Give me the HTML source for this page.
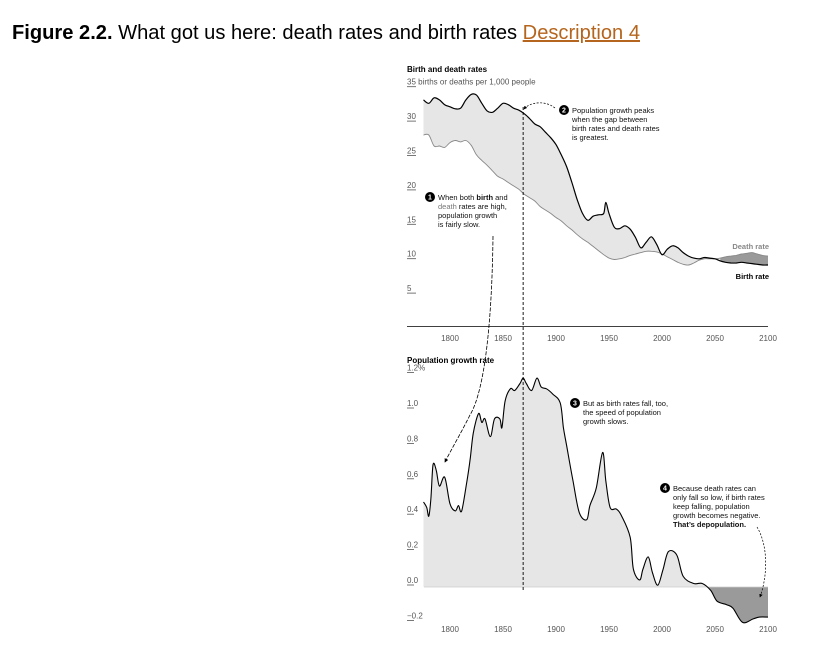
<!DOCTYPE html>
<html><head><meta charset="utf-8"><style>
body{margin:0;background:#fff;width:830px;height:647px;overflow:hidden;font-family:"Liberation Sans",sans-serif}
svg text{font-family:"Liberation Sans",sans-serif}
</style></head><body>
<svg id="fig" width="830" height="647" viewBox="0 0 830 647">
<defs><marker id="ah" viewBox="0 0 6 6" refX="5" refY="3" markerWidth="5" markerHeight="5" orient="auto"><path d="M0,0 L6,3 L0,6 z" fill="#000"/></marker></defs>
<text x="12" y="39" font-size="20" textLength="628" lengthAdjust="spacingAndGlyphs"><tspan font-weight="bold">Figure 2.2.</tspan> What got us here: death rates and birth rates <tspan fill="#b5651d" text-decoration="underline">Description 4</tspan></text>
<g id="topG"></g><g id="botG"></g>
</svg>
<script>
const years1=[1775,1780,1785,1790,1795,1800,1805,1810,1815,1820,1825,1830,1835,1840,1845,1850,1855,1860,1865,1870,1875,1880,1885,1890,1895,1900,1905,1910,1915,1920,1925,1930,1935,1940,1945,1947,1950,1955,1960,1965,1970,1975,1980,1985,1990,1995,2000,2005,2010,2015,2020,2025,2030,2035,2040,2045,2050,2055,2060,2065,2070,2075,2080,2085,2090,2095,2100];
const birthRate=[32.5,32,32.8,32.5,31.8,31.5,31.2,31.3,32.5,33.3,33.2,32,30.9,30.7,31.3,32,31.8,31.3,31,30.5,29.8,29,28.6,27.8,27,26,24.5,22.8,20.5,18,16,15,15.6,15.8,16,17.6,16,14,13.8,14.2,13.7,12.5,11,11.8,12.6,11.5,10,10.8,11.3,11,10.3,9.8,9.5,9.4,9.6,9.5,9.4,9.1,8.9,8.8,8.8,8.9,8.8,8.7,8.6,8.5,8.5];
const deathRate=[27.4,27.4,25.8,25.8,25.6,26.3,26.6,26.4,26.6,25.9,24.5,23.7,23,22.2,21.4,21,20.5,20,19.5,18.8,18.3,17.8,17,16.5,16,15.4,14.9,14.2,13.6,12.9,12.3,11.8,11.2,10.6,10,9.8,9.5,9.3,9.4,9.6,9.9,10.1,10.3,10.5,10.5,10.4,10.1,9.7,9.3,8.9,8.6,8.5,8.8,9.2,9.4,9.4,9.4,9.5,9.7,9.8,9.9,10.1,10.2,10.3,10.1,9.9,9.8];
const years2=[1775,1778,1780,1782,1784,1787,1790,1795,1800,1805,1808,1811,1816,1819,1822,1827,1830,1833,1838,1842,1847,1849,1852,1857,1861,1866,1869,1872,1877,1882,1886,1891,1897,1904,1907,1910,1916,1922,1929,1932,1938,1944,1947,1951,1957,1962,1970,1973,1979,1982,1987,1991,1996,2001,2006,2014,2020,2030,2038,2046,2052,2061,2067,2076,2086,2092,2100];
const growth=[0.48,0.45,0.40,0.50,0.69,0.66,0.57,0.62,0.47,0.43,0.46,0.43,0.60,0.72,0.87,0.98,0.93,0.95,0.85,0.95,0.95,0.90,1.05,1.12,1.11,1.15,1.18,1.15,1.11,1.18,1.13,1.12,1.09,1.04,0.90,0.80,0.60,0.42,0.38,0.46,0.56,0.76,0.60,0.45,0.44,0.40,0.28,0.10,0.04,0.10,0.17,0.08,0.01,0.10,0.20,0.18,0.06,0.02,0.02,-0.02,-0.08,-0.10,-0.12,-0.20,-0.18,-0.17,-0.17];
const xTicks=[1800,1850,1900,1950,2000,2050,2100];
const yTicks1=[5,10,15,20,25,30,35];
const yTicks2=[-0.2,0.0,0.2,0.4,0.6,0.8,1.0,1.2];
const yLabels2=["\u22120.2","0.0","0.2","0.4","0.6","0.8","1.0","1.2%"];

const NS="http://www.w3.org/2000/svg";
const X=y=>450+(y-1800)*1.06;
const Y1=v=>323.5-v*6.88;
const Y2=v=>587-v*177;
function mk(tag,attrs,parent,txt){const e=document.createElementNS(NS,tag);for(const k in attrs)e.setAttribute(k,attrs[k]);if(txt!==undefined)e.textContent=txt;parent.appendChild(e);return e;}
const topG=document.getElementById('topG'),botG=document.getElementById('botG');
const P=(xs,ys,fy)=>xs.map((x,i)=>[X(x),fy(ys[i])]);
function smooth(p){let d='';for(let i=0;i<p.length-1;i++){const a=p[i-1]||p[i],b=p[i],c=p[i+1],e=p[i+2]||c;
 const c1=[b[0]+(c[0]-a[0])/6,b[1]+(c[1]-a[1])/6],c2=[c[0]-(e[0]-b[0])/6,c[1]-(e[1]-b[1])/6];
 d+=' C'+c1[0].toFixed(1)+','+c1[1].toFixed(1)+' '+c2[0].toFixed(1)+','+c2[1].toFixed(1)+' '+c[0].toFixed(1)+','+c[1].toFixed(1);}return d;}
const M=p=>'M'+p[0][0].toFixed(1)+','+p[0][1].toFixed(1);

let t=mk('text',{x:407,y:72,'font-size':8,'font-weight':'bold'},topG,'Birth and death rates');


yTicks1.forEach(v=>{
 const lab=mk('text',{x:407,y:Y1(v)+2,'font-size':8,fill:'#555'},topG,v===35?'35 births or deaths per 1,000 people':String(v));
 
 
 mk('line',{x1:407,x2:416,y1:Y1(v)+4,y2:Y1(v)+4,stroke:'#555','stroke-width':0.8},topG);
});
const bp=P(years1,birthRate,Y1),dp=P(years1,deathRate,Y1);
const dr=dp.slice().reverse();
const gap=mk('path',{d:M(bp)+smooth(bp)+' L'+dr[0].join(',')+smooth(dr)+'Z',fill:'#e6e6e6'},topG);


const i0=years1.indexOf(2055);
const bs=bp.slice(i0),ds=dp.slice(i0).reverse();
const neg=mk('path',{d:M(bs)+smooth(bs)+' L'+ds[0].join(',')+smooth(ds)+'Z',fill:'#9a9a9a'},topG);


const dl=mk('path',{d:M(dp)+smooth(dp),fill:'none',stroke:'#888','stroke-width':0.9},topG);


const bl=mk('path',{d:M(bp)+smooth(bp),fill:'none',stroke:'#000','stroke-width':1.2},topG);


mk('line',{x1:407,x2:768,y1:326.5,y2:326.5,stroke:'#000','stroke-width':0.8},topG);
xTicks.forEach(v=>{const l=mk('text',{x:X(v),y:341,'font-size':8,fill:'#555','text-anchor':'middle'},topG,String(v));
 
 });
let e=mk('text',{x:769,y:249,'font-size':7.5,'font-weight':'bold',fill:'#888','text-anchor':'end'},topG,'Death rate');


e=mk('text',{x:769,y:279,'font-size':7.5,'font-weight':'bold',fill:'#000','text-anchor':'end'},topG,'Birth rate');



t=mk('text',{x:407,y:363,'font-size':8,'font-weight':'bold'},botG,'Population growth rate');


yTicks2.forEach((v,i)=>{
 const lab=mk('text',{x:407,y:Y2(v)-4,'font-size':8,fill:'#555'},botG,yLabels2[i]);
 
 
 mk('line',{x1:407,x2:414,y1:Y2(v)-2,y2:Y2(v)-2,stroke:'#555','stroke-width':0.8},botG);
});
const gp=P(years2,growth,Y2);
const y0=Y2(0);
const xs0=X(years2[0]),xs1=X(years2[years2.length-1]);
const clipP=mk('clipPath',{id:'cpPos'},botG);mk('rect',{x:0,y:0,width:830,height:y0},clipP);
const clipN=mk('clipPath',{id:'cpNeg'},botG);mk('rect',{x:0,y:y0,width:830,height:100},clipN);
const areaD=M(gp)+smooth(gp)+' L'+xs1+','+y0+' L'+xs0+','+y0+'Z';
const posA=mk('path',{d:areaD,fill:'#e6e6e6','clip-path':'url(#cpPos)'},botG);


const negA=mk('path',{d:areaD,fill:'#9a9a9a','clip-path':'url(#cpNeg)'},botG);


mk('line',{x1:424,x2:768,y1:y0,y2:y0,stroke:'#ccc','stroke-width':0.8},botG);
const gl=mk('path',{d:M(gp)+smooth(gp),fill:'none',stroke:'#000','stroke-width':1.1},botG);


xTicks.forEach(v=>{const l=mk('text',{x:X(v),y:632,'font-size':8,fill:'#555','text-anchor':'middle'},botG,String(v));
 
 });

const svg=document.getElementById('fig');
e=mk('line',{x1:X(1869),x2:X(1869),y1:107,y2:590,stroke:'#000','stroke-width':0.9,'stroke-dasharray':'3,2'},svg);



function note(n,cx,cy,lines,name){
 const g=mk('g',{},svg);
 
 
 mk('circle',{cx:cx,cy:cy,r:5},g);mk('text',{x:cx,y:cy+2.5,'font-size':7,'font-weight':'bold',fill:'#fff','text-anchor':'middle'},g,String(n));
 lines.forEach((l,i)=>{const tx=mk('text',{x:cx+8,y:cy+3+i*9,'font-size':7.5,fill:'#111'},g);tx.innerHTML=l;});
}
note(1,430,197,['When both <tspan font-weight="bold">birth</tspan> and','<tspan fill="#777">death</tspan> rates are high,','population growth','is fairly slow.'],'annotation-1');
note(2,564,110,['Population growth peaks','when the gap between','birth rates and death rates','is greatest.'],'annotation-2');
note(3,575,403,['But as birth rates fall, too,','the speed of population','growth slows.'],'annotation-3');
note(4,665,488,['Because death rates can','only fall so low, if birth rates','keep falling, population','growth becomes negative.','<tspan font-weight="bold">That’s depopulation.</tspan>'],'annotation-4');
mk('path',{d:'M493,236 C492,320 485,390 470,415 C460,435 452,448 445,462',fill:'none',stroke:'#000','stroke-width':0.8,'stroke-dasharray':'4,1.5','marker-end':'url(#ah)'},svg);
mk('path',{d:'M555,108 C545,100 530,102 524,109',fill:'none',stroke:'#000','stroke-width':0.7,'stroke-dasharray':'2,1.5','marker-end':'url(#ah)'},svg);
mk('path',{d:'M757,527 C768,545 768,575 760,597',fill:'none',stroke:'#000','stroke-width':0.7,'stroke-dasharray':'2,1.5','marker-end':'url(#ah)'},svg);
</script>
</body></html>
